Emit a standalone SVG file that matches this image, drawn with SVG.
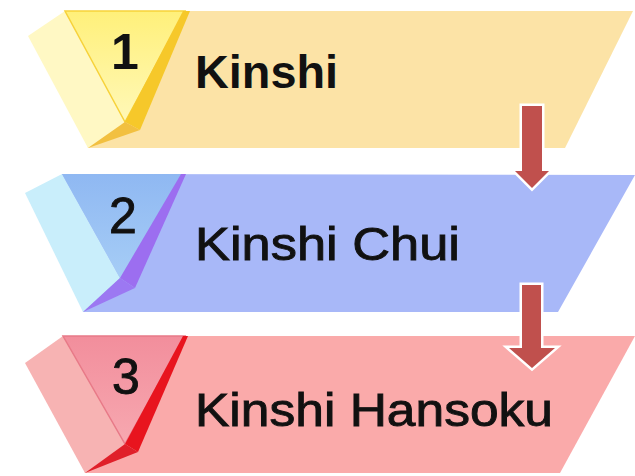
<svg xmlns="http://www.w3.org/2000/svg" width="635" height="476" viewBox="0 0 635 476">
<style>
.lbl{font-family:"Liberation Sans",Arial,sans-serif;font-size:46px;fill:#111;}
.num{font-family:"Liberation Sans",Arial,sans-serif;font-size:50px;fill:#111;text-anchor:middle;}
.reg{stroke:#111;stroke-width:0.9px;}
.arrow{fill:#C0504D;stroke:#fff;stroke-width:5;stroke-linejoin:miter;paint-order:stroke;}
</style>
<defs>
<linearGradient id="triY" x1="0" y1="0" x2="0" y2="1"><stop offset="0" stop-color="#FFF07A"/><stop offset="1" stop-color="#FFF8B8"/></linearGradient>
<linearGradient id="triB" x1="0" y1="0" x2="0" y2="1"><stop offset="0" stop-color="#8FB8F2"/><stop offset="1" stop-color="#A6CDF6"/></linearGradient>
<linearGradient id="triP" x1="0" y1="0" x2="0" y2="1"><stop offset="0" stop-color="#F28E9C"/><stop offset="1" stop-color="#F7A8B0"/></linearGradient>
</defs>
<rect width="635" height="476" fill="#fff"/>
<g id="step1">
<polygon points="65,11 633,11 565,148 88,148" fill="#FCE3A6"/>
<polygon points="28,36 65,11 125,122 88,148" fill="#FFF8C4"/>
<polygon points="65,11 185,11 125,122" fill="url(#triY)" stroke="#F7D23A" stroke-width="1.5"/>
<polygon points="183,11 190,11 140,130 125,122" fill="#F6C82A"/>
<polygon points="125,122 140,130 88,148" fill="#F2C040"/>
<text class="num" x="125" y="69" font-weight="bold">1</text>
<text class="lbl" x="195" y="88" font-weight="bold" textLength="143" lengthAdjust="spacingAndGlyphs">Kinshi</text>
</g>
<g id="step2">
<polygon points="62,174 635,175 558,312 83,312" fill="#A8B8F8"/>
<polygon points="25,193 62,174 120,278 83,312" fill="#C9EEFB"/>
<polygon points="62,174 183,174 120,278" fill="url(#triB)"/>
<polygon points="181,174 186,174 135,288 120,278" fill="#9C6EF0"/>
<polygon points="120,278 135,288 83,312" fill="#9C78F2"/>
<text class="num reg" x="123" y="233">2</text>
<text class="lbl reg" x="195" y="260" textLength="265" lengthAdjust="spacingAndGlyphs">Kinshi Chui</text>
</g>
<g id="step3">
<polygon points="63,336 635,336 560,473 85,473" fill="#FAAAAA"/>
<polygon points="25,363 63,336 125,444 85,473" fill="#F7B3B3"/>
<polygon points="63,336 185,336 125,444" fill="url(#triP)" stroke="#E87A88" stroke-width="1.5"/>
<polygon points="183,336 188,336 138,452 125,444" fill="#E8141E"/>
<polygon points="125,444 138,452 85,473" fill="#E0202A"/>
<text class="num reg" x="126" y="394">3</text>
<text class="lbl reg" x="195" y="426" textLength="358" lengthAdjust="spacingAndGlyphs">Kinshi Hansoku</text>
</g>
<g id="connectors">
<path class="arrow" d="M522,106 H542 V171 H549 L532,188 L515,171 H522 Z"/>
<path class="arrow" d="M522,285 H541 V348 H555 L532,368 L509,348 H522 Z"/>
</g>
</svg>
